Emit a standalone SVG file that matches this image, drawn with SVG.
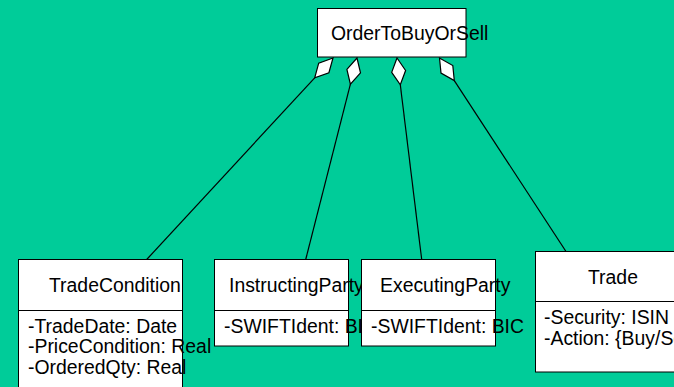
<svg xmlns="http://www.w3.org/2000/svg" width="674" height="387" viewBox="0 0 674 387">
<style>
.box{fill:#ffffff;stroke:#000000;stroke-width:1}
.div{stroke:#000000;stroke-width:1}
.t{font-family:"Liberation Sans",Arial,sans-serif;font-size:19.4px;fill:#000000}
.conn line{stroke:#000000;stroke-width:1.2}
.conn polygon{fill:#ffffff;stroke:#000000;stroke-width:1.2;stroke-linejoin:miter}
</style>
<rect x="0" y="0" width="674" height="387" fill="#00CC99"/>
<g id="connectors" class="conn">
<line x1="314.7" y1="77.8" x2="146.7" y2="259.5"/>
<polygon points="333,58 318.7,63.2 314.7,77.8 328.9,72.7"/>
<line x1="350.4" y1="84.2" x2="305.7" y2="259.5"/>
<polygon points="357,58 346.9,69.4 350.4,84.2 360.5,72.8"/>
<line x1="400.3" y1="84.8" x2="421.7" y2="259.5"/>
<polygon points="397,58 391.7,72.3 400.3,84.8 405.6,70.5"/>
<line x1="454.3" y1="80.6" x2="566" y2="251.5"/>
<polygon points="439.5,58 441,73.1 454.3,80.6 452.8,65.5"/>
</g>
<g id="OrderToBuyOrSell">
<rect class="box" x="317.5" y="8.5" width="148.5" height="48.5"/>
<text class="t" x="331" y="40">OrderToBuyOrSell</text>
</g>
<g id="TradeCondition">
<rect class="box" x="18.5" y="259.5" width="164" height="140"/>
<line class="div" x1="18.5" y1="310.5" x2="182.5" y2="310.5"/>
<text class="t" x="49" y="292">TradeCondition</text>
<text class="t" x="28" y="332.7">-TradeDate: Date</text>
<text class="t" x="28" y="353.3">-PriceCondition: Real</text>
<text class="t" x="28" y="374">-OrderedQty: Real</text>
</g>
<g id="InstructingParty">
<rect class="box" x="214.5" y="259.5" width="134" height="86.5"/>
<line class="div" x1="214.5" y1="310.5" x2="348.5" y2="310.5"/>
<text class="t" x="229" y="292">InstructingParty</text>
<text class="t" x="224" y="332.7">-SWIFTIdent: BIC</text>
</g>
<g id="ExecutingParty">
<rect class="box" x="361.5" y="259.5" width="134" height="86.5"/>
<line class="div" x1="361.5" y1="310.5" x2="495.5" y2="310.5"/>
<text class="t" x="380" y="292">ExecutingParty</text>
<text class="t" x="371" y="332.7">-SWIFTIdent: BIC</text>
</g>
<g id="Trade">
<rect class="box" x="535.5" y="251.5" width="150" height="120.5"/>
<line class="div" x1="535.5" y1="301.5" x2="685.5" y2="301.5"/>
<text class="t" x="588" y="284">Trade</text>
<text class="t" x="544" y="324">-Security: ISIN</text>
<text class="t" x="544" y="345">-Action: {Buy/Sell}</text>
</g>
</svg>
